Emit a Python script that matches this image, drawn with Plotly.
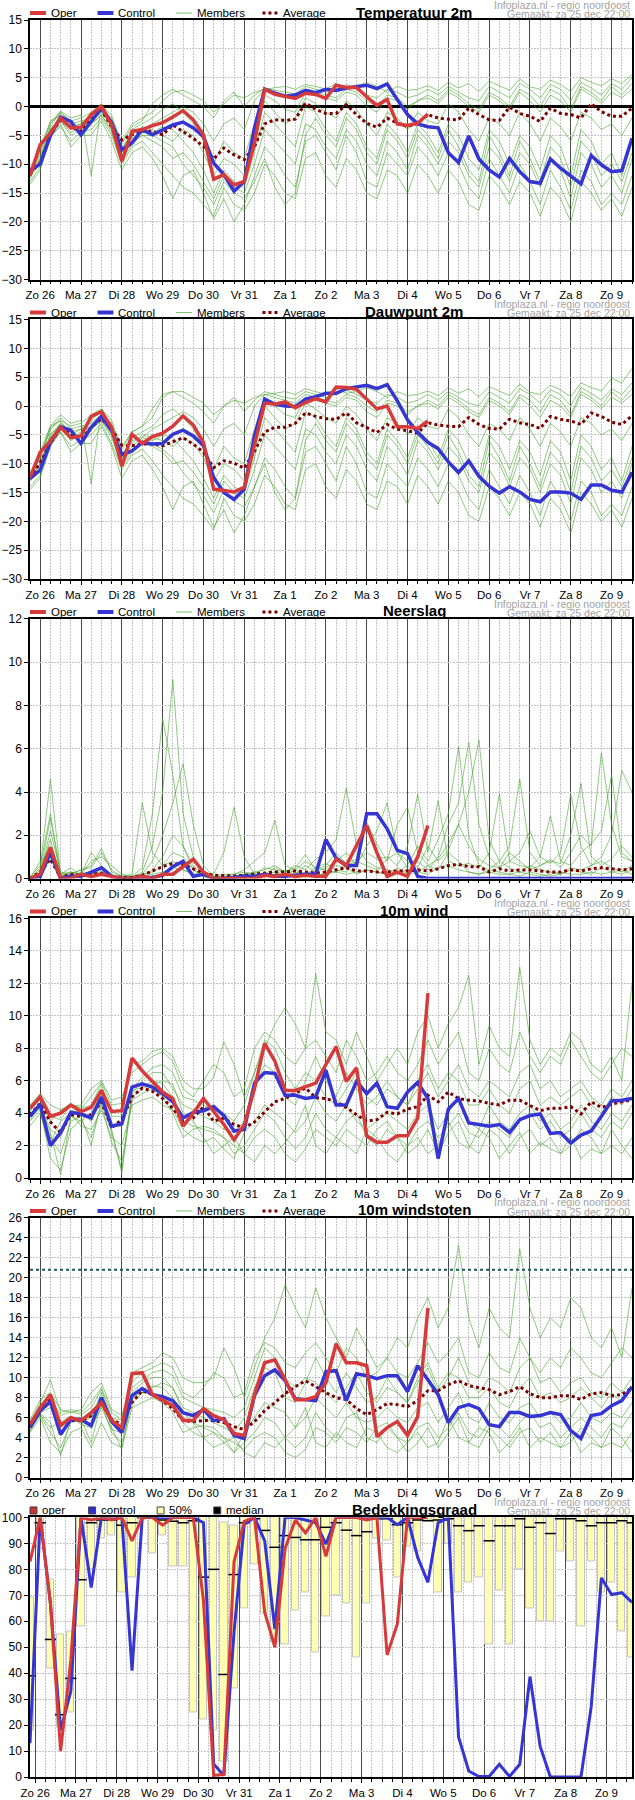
#!/usr/bin/env python3
"""
Ensemble pluim (Infoplaza, regio noordoost) - run za 25 dec 22:00.
Six stacked panels: temperature, dew point, precipitation, wind, gusts, cloud cover.
"""

import pandas as pd
import plotly.graph_objects as go
from plotly.subplots import make_subplots

# ---------------------------------------------------------------------------
# time axis
# ---------------------------------------------------------------------------
TIMES = pd.date_range("2010-12-25 18:00", periods=60, freq="6h")
CLOUD_TIMES = pd.date_range("2010-12-25 21:00", periods=60, freq="6h")
DAY_TICKS = pd.date_range("2010-12-26", periods=15, freq="D")
DAY_LABELS = ["Zo 26", "Ma 27", "Di 28", "Wo 29", "Do 30", "Vr 31", "Za 1", "Zo 2",
              "Ma 3", "Di 4", "Wo 5", "Do 6", "Vr 7", "Za 8", "Zo 9"]

CREDIT_LINES = ["Infoplaza.nl - regio noordoost", "Gemaakt: za 25 dec 22:00"]

# ---------------------------------------------------------------------------
# Temperatuur 2m
# ---------------------------------------------------------------------------
temp_oper = [
    -12, -6.6, -4.6, -2.0, -3.7, -3.6, -1.4, 0.0, -3.2, -9.5,
    -4.3, -4.0, -3.3, -2.8, -1.8, -0.7, -2.3, -4.9, -12.6, -11.8,
    -13.6, -13.0, -6.3, 3.0, 2.1, 1.8, 1.4, 2.3, 2.1, 1.4,
    3.7, 3.3, 3.3, 1.7, 0.2, 1.2, -3.0, -3.3, -2.9, -1.3]
temp_control = [
    -11, -10, -5, -1.8, -2.6, -4.9, -2.6, -0.3, -2.8, -7.5,
    -6.3, -4.0, -4.9, -4.0, -3.2, -2.7, -3.7, -5.2, -9.8, -11.8,
    -14.7, -13.0, -3.7, 3.0, 2.3, 1.8, 2.0, 2.8, 2.4, 3.0,
    2.8, 3.2, 3.5, 3.7, 3.1, 3.9, 1.2, -1.4, -3.0, -3.5,
    -3.7, -8.0, -9.7, -5.1, -9.1, -11.0, -12.2, -9.0, -11.3, -13.0,
    -13.3, -9.1, -10.7, -12.1, -13.4, -8.5, -10.1, -11.3, -11.1, -5.5]
temp_avg = [
    -11.5, -9.8, -4.9, -2.3, -3.5, -4.3, -2.3, -0.6, -3.5, -5.8,
    -4.9, -4.3, -4.3, -4.9, -3.2, -4.3, -5.5, -6.9, -9.1, -7.2,
    -8.4, -9.2, -6.9, -3.0, -2.3, -2.4, -2.2, 0.6, -0.5, -1.2,
    -1.2, 0.3, -1.4, -2.9, -3.6, -2.0, -2.9, -3.5, -2.9, -1.4,
    -2.0, -2.2, -2.3, -0.3, -1.4, -2.3, -2.4, -0.1, -1.2, -1.7,
    -2.6, -0.3, -1.2, -1.4, -2.0, 0.5, -0.9, -1.7, -1.7, -0.3]
temp_members = [
    [-11.5, -8.5, -3.5, -1, -2.5, -2, -1, 0.5, -2.5, -6,
     -3, -2, -1, 1, 2.5, 2.8, 2, 1, -1, 0.5,
     2, 1.5, 2.5, 3, 3.2, 3.5, 3, 3.8, 3.5, 3,
     4, 3.2, 3.5, 4.2, 3.5, 2.5, 3.5, 2.8, 3, 3.6,
     2.8, 4.2, 3.2, 4, 2.6, 4.4, 3.6, 2.8, 4.8, 3.4,
     3, 4.6, 3.8, 2.6, 5, 4.2, 3.6, 4.8, 4, 5.5],
    [-12, -9.5, -4, -2, -3, -4.5, -2, -0.5, -3, -7,
     -5, -3.5, -4, -5, -6, -4, -5, -8, -12, -9,
     -10, -12, -6, 1, -1, -3, -2, 1.5, 0.5, -1,
     -2, 1, -0.5, -3, -5, -1, -2, -4, -1, -2.5,
     -3, 0.5, -1, -4, -6, -2, -3, -5, -1, -3,
     -6, -2, -3.5, -6, -1, -2, -4, -3, -5, -2],
    [-13, -10.5, -5, -3.5, -6, -4.5, -4, -2, -5, -10,
     -7, -6, -8, -10, -12, -14, -15, -17, -19, -14,
     -17, -18, -15, -10, -12, -15, -16, -9, -8, -12,
     -14, -9, -11, -15, -16, -11, -12, -15, -10, -12,
     -15, -11, -13, -17, -18, -12, -14, -17, -13, -15,
     -19, -14, -16, -20, -13, -15, -18, -16, -19, -14],
    [-11, -7.5, -2.5, -1.5, -4, -3, -1.5, 0, -3, -8,
     -4, -3, -2, -0.5, 0.5, -1, -3, -6, -10, -6,
     -8, -9, -3, 2, 1, -0.5, -1, 2.5, 2, 1.5,
     1, 2.5, 2, 0, -1, 1.5, 1, -0.5, 1, 1.5,
     0.5, 2.5, 1.5, 0, -1, 2, 1, -0.5, 2.5, 1,
     -1, 2, 1, -1, 3, 2, 0.5, 2.5, 1.5, 3],
    [-12.5, -9, -4.5, -2.5, -5, -4, -3, -1.5, -4.5, -9,
     -6, -5, -6, -7, -9, -8, -10, -13, -16, -12,
     -14, -15, -10, -4, -6, -8, -10, -3, -4, -7,
     -9, -4, -6, -10, -12, -6, -8, -11, -5, -7,
     -10, -6, -8, -12, -14, -7, -9, -13, -8, -10,
     -14, -9, -11, -16, -8, -10, -14, -12, -15, -9],
    [-11.8, -8, -3, -1, -3, -2.5, -2, -0.5, -2, -7.5,
     -4.5, -4, -3, -2, -1, 0, -1, -3, -6, -3,
     -2, -4, 1, 3, 2.5, 2, 1.5, 3, 2.5, 2,
     1.5, 3, 2.5, 1, 0, 2, 1.5, 0, 1, 2,
     1, 3, 2, 0.5, -0.5, 2.5, 1.5, 0, 3, 2,
     0, 3, 2, -0.5, 3.5, 2.5, 1, 3.5, 2, 4],
    [-12.2, -9, -3.8, -2.5, -4.5, -3.5, -2.5, -1, -3.5, -8.5,
     -5.5, -4, -4.5, -3.5, -4, -6, -8, -11, -15, -11,
     -13, -14, -8, -1, -3, -5, -7, 0, -1, -4,
     -6, -1, -3, -7, -9, -3, -5, -8, -3, -5,
     -8, -3, -5, -9, -11, -4, -6, -10, -5, -7,
     -11, -5, -7, -12, -4, -6, -10, -8, -12, -6],
    [-13.5, -11, -5.5, -3, -7, -5, -5, -2.5, -6, -11,
     -8, -7, -9, -12, -16, -12, -11, -15, -19.5, -16,
     -20, -17, -12, -7, -9, -12, -14, -6, -5, -8,
     -11, -5, -8, -13, -14, -8, -10, -12, -7, -9,
     -12, -8, -10, -14, -16, -9, -12, -15, -10, -13,
     -17, -11, -14, -18, -11, -13, -17, -15, -17, -12],
    [-11.2, -7, -2.8, -0.8, -2, -1.5, -12, 0.2, -1.5, -6.5,
     -3.5, -2.5, 0.5, 2, 3, 2, 1, 0, -2, 1,
     2.5, 0, 2, 3.2, 2.8, 2.5, 2.2, 3.5, 3, 2.5,
     3, 3.8, 3, 2, 1.5, 3, 2.5, 1.5, 2, 3,
     2, 3.5, 2.5, 1.5, 1, 3.5, 2.5, 1.5, 4, 3,
     1.5, 3.8, 3, 1, 4.2, 3.2, 2, 4, 3, 5],
    [-12, -10, -4.2, -2, -3.5, -3, -3, -1.5, -4, -9.5,
     -6.5, -5, -5, -6, -7, -10, -12, -14, -17, -13,
     -15, -16, -13, -9, -14, -17, -15, -5, -2, -5,
     -7, -2, -4, -8, -10, -4, -6, -9, -4, -6,
     -9, -4, -7, -11, -13, -5, -8, -12, -6, -9,
     -13, -7, -9, -14, -6, -8, -12, -10, -13, -8],
]

# ---------------------------------------------------------------------------
# Dauwpunt 2m
# ---------------------------------------------------------------------------
dew_oper = [
    -12.4, -8.0, -6.1, -3.7, -5.5, -5.2, -1.8, -1.0, -3.7, -10.4,
    -4.9, -6.5, -5.3, -4.7, -3.5, -1.7, -3.3, -6.3, -14.4, -14.6,
    -14.9, -14.1, -6.6, 0.5, 0.3, 0.7, -0.3, 0.6, 1.3, 0.7,
    3.3, 3.2, 2.9, 1.3, -0.5, 0.0, -3.6, -3.6, -3.9, -2.6]
dew_control = [
    -12.6, -11.1, -6.3, -3.6, -4.2, -6.5, -3.7, -1.8, -4.3, -8.4,
    -7.8, -6.3, -6.6, -6.5, -4.9, -4.2, -5.2, -6.9, -12.4, -15.0,
    -16.2, -14.4, -5.2, 1.2, 0.3, 0.0, -0.1, 1.2, 1.6, 2.2,
    2.2, 3.0, 3.3, 3.6, 3.0, 3.7, 0.9, -2.4, -4.6, -6.3,
    -7.4, -9.7, -11.5, -9.5, -12.2, -13.9, -15.1, -14.0, -14.9, -16.2,
    -16.6, -14.9, -14.9, -15.1, -16.2, -13.7, -13.7, -14.6, -14.9, -11.5]
dew_avg = [
    -12.5, -9.8, -6.5, -3.7, -4.9, -5.8, -3.7, -2.2, -4.0, -6.8,
    -6.9, -6.6, -6.6, -6.9, -6.2, -5.5, -6.6, -8.0, -10.7, -9.5,
    -9.9, -10.8, -7.8, -4.5, -3.7, -3.7, -3.0, -1.2, -1.8, -2.2,
    -2.3, -1.2, -2.9, -3.7, -4.6, -3.2, -4.0, -4.3, -4.7, -2.9,
    -3.3, -3.5, -3.6, -2.0, -3.2, -3.9, -4.0, -2.3, -2.9, -3.2,
    -3.9, -1.8, -2.3, -2.6, -3.2, -1.2, -1.8, -2.8, -3.2, -1.7]
dew_members = [
    [-12, -9, -4, -2.5, -3.5, -3, -1.5, -0.5, -3.5, -7,
     -4.5, -3.5, -2, 1.5, 2.5, 2.5, 1.5, 0.5, -1.5, 0,
     1, 0.5, 1.5, 2, 2.2, 2.5, 2, 3, 2.5, 2,
     3, 2.2, 2.5, 3.2, 2.5, 1.5, 2.5, 1.8, 2, 2.6,
     1.8, 3.2, 2.2, 3, 1.6, 3.4, 2.6, 1.8, 3.8, 2.4,
     2, 3.6, 2.8, 1.6, 4, 3.2, 2.6, 4.8, 4, 6.5],
    [-12.5, -10, -5, -3, -4.5, -6, -3.5, -2, -4.5, -8,
     -6.5, -5, -5.5, -6, -7, -5.5, -6.5, -9, -13, -10,
     -11, -13, -7, 0, -2, -4, -3, 0.5, -0.5, -2,
     -3, 0, -1.5, -4, -6, -2, -3, -5, -2, -3.5,
     -4, -0.5, -2, -5, -7, -3, -4, -6, -2, -4,
     -7, -3, -4.5, -7, -2, -3, -5, -4, -6, -3],
    [-14, -12, -6.5, -4.5, -7, -6, -5, -3, -6.5, -11,
     -8.5, -7.5, -9.5, -12, -14, -16, -17, -19, -21.5, -16,
     -19, -20, -17, -12, -14, -17, -18, -11, -10, -14,
     -16, -11, -13, -17, -18, -13, -14, -17, -12, -14,
     -17, -13, -15, -19, -20, -14, -16, -19, -15, -17,
     -21, -16, -18, -22, -15, -17, -20, -18, -21, -16],
    [-12, -8.5, -3.5, -2.5, -5, -4, -2.5, -1, -4, -9,
     -5.5, -4.5, -3.5, -1.5, -0.5, -2, -4, -7, -11, -7,
     -9, -10, -4, 1, 0, -1.5, -2, 1.5, 1, 0.5,
     0, 1.5, 1, -1, -2, 0.5, 0, -1.5, 0, 0.5,
     -0.5, 1.5, 0.5, -1, -2, 1, 0, -1.5, 1.5, 0,
     -2, 1, 0, -2, 2, 1, -0.5, 1.5, 0.5, 2],
    [-13, -10, -5.5, -3.5, -6, -5, -4, -2.5, -5.5, -10,
     -7.5, -6.5, -7, -8, -10, -9.5, -11.5, -14, -17, -13,
     -15, -16, -11, -5, -7, -9, -11, -4, -5, -8,
     -10, -5, -7, -11, -13, -7, -9, -12, -6, -8,
     -11, -7, -9, -13, -15, -8, -10, -14, -9, -11,
     -15, -10, -12, -17, -9, -11, -15, -13, -16, -10],
    [-12.3, -9, -4, -2, -4, -3.5, -3, -1.5, -3, -8.5,
     -6, -5.5, -4, -3, -2, -1, -2, -4, -7, -4,
     -3, -5, 0, 2, 1.5, 1, 0.5, 2, 1.5, 1,
     0.5, 2, 1.5, 0, -1, 1, 0.5, -1, 0, 1,
     0, 2, 1, -0.5, -1.5, 1.5, 0.5, -1, 2, 1,
     -1, 2, 1, -1.5, 2.5, 1.5, 0, 2.5, 1, 3],
    [-12.7, -10, -4.8, -3.5, -5.5, -4.5, -3.5, -2, -4.5, -9.5,
     -7, -5.5, -6, -5, -5.5, -7.5, -9.5, -12.5, -16, -12,
     -14, -15, -9, -2, -4, -6, -8, -1, -2, -5,
     -7, -2, -4, -8, -10, -4, -6, -9, -4, -6,
     -9, -4, -6, -10, -12, -5, -7, -11, -6, -8,
     -12, -6, -8, -13, -5, -7, -11, -9, -13, -7],
    [-14.5, -12.5, -7, -4.5, -8, -6.5, -6.5, -3.5, -7, -12.5,
     -9.5, -8.5, -11, -14, -18, -14, -13, -17, -21, -18,
     -22, -19, -14, -9, -11, -14, -16, -8, -7, -10,
     -13, -7, -10, -15, -16, -10, -12, -14, -9, -11,
     -14, -10, -12, -16, -18, -11, -14, -17, -12, -15,
     -19, -13, -16, -20, -13, -15, -19, -17, -19, -14],
    [-11.8, -8, -3.5, -1.5, -3, -2.5, -13.5, -0.5, -2.5, -7.5,
     -4.5, -3.5, -0.5, 2, 2.5, 1.5, 0.5, -1, -3, 0,
     1.5, -1, 1, 2.5, 2, 1.5, 1.2, 2.5, 2, 1.5,
     2, 2.8, 2, 1, 0.5, 2, 1.5, 0.5, 1, 2,
     1, 2.5, 1.5, 0.5, 0, 2.5, 1.5, 0.5, 3, 2,
     0.5, 2.8, 2, 0, 3.2, 2.2, 1, 3, 2, 4],
    [-12.8, -11, -5.5, -3, -4.5, -4, -4, -2.5, -5, -10.5,
     -8, -6.5, -6.5, -7.5, -9, -11.5, -13.5, -15.5, -18.5, -14.5,
     -16.5, -17.5, -14, -10, -15, -18, -16, -6, -3, -6,
     -8, -3, -5, -9, -11, -5, -7, -10, -5, -7,
     -10, -5, -8, -12, -14, -6, -9, -13, -7, -10,
     -14, -8, -10, -15, -7, -9, -13, -11, -14, -9],
]

# ---------------------------------------------------------------------------
# Neerslag
# ---------------------------------------------------------------------------
precip_oper = [
    0, 0.2, 1.45, 0, 0, 0.2, 0.1, 0.2, 0.1, 0,
    0, 0.1, 0, 0.2, 0.2, 0.55, 0.9, 0.3, 0, 0,
    0, 0, 0, 0.15, 0.1, 0.2, 0.1, 0.15, 0.1, 0.1,
    0.9, 0.6, 1.5, 2.45, 1.2, 0.1, 0.3, 0.1, 1.0, 2.45]
precip_control = [
    0, 0.1, 1.2, 0, 0.1, 0.1, 0.3, 0.5, 0.1, 0,
    0, 0.05, 0.05, 0.15, 0.55, 0.8, 0.1, 0.2, 0, 0,
    0.05, 0.1, 0.1, 0.2, 0.1, 0.1, 0.15, 0.2, 0.2, 1.8,
    0.95, 0.6, 0.6, 3.0, 3.0, 2.3, 1.3, 1.15, 0.1, 0,
    0, 0, 0, 0, 0, 0, 0, 0, 0, 0,
    0, 0, 0, 0, 0, 0, 0, 0, 0, 0]
precip_avg = [
    0, 0.3, 0.9, 0.05, 0.2, 0.15, 0.2, 0.25, 0.1, 0.05,
    0.05, 0.15, 0.35, 0.55, 0.7, 0.65, 0.45, 0.25, 0.15, 0.12,
    0.12, 0.15, 0.2, 0.25, 0.3, 0.3, 0.35, 0.3, 0.25, 0.3,
    0.4, 0.5, 0.35, 0.35, 0.3, 0.3, 0.35, 0.35, 0.4, 0.35,
    0.45, 0.6, 0.65, 0.55, 0.55, 0.3, 0.45, 0.35, 0.4, 0.4,
    0.35, 0.3, 0.3, 0.4, 0.35, 0.45, 0.5, 0.45, 0.4, 0.45]
precip_members = [
    [0, 0.5, 4.6, 0.2, 0.1, 0.3, 0.2, 0.4, 0.1, 0,
     0, 0.3, 1.5, 4, 9.2, 3, 1, 0.2, 0, 0,
     0.1, 0.2, 0.1, 0.2, 0.3, 0.1, 0.4, 0.2, 0.1, 0.3,
     0.6, 0.5, 0.2, 0.4, 0.3, 0.2, 0.5, 0.2, 0.3, 0.6,
     0.4, 1.2, 0.8, 0.3, 0.2, 0.4, 0.3, 0.2, 0.1, 0.3,
     0.2, 0.1, 0.2, 0.4, 0.3, 0.2, 0.5, 0.3, 0.2, 0.4],
    [0, 0.3, 2.8, 0.1, 0.3, 0.2, 1.2, 0.6, 0.2, 0,
     0.1, 0.5, 3, 7.4, 4.8, 1.5, 0.4, 0.1, 0, 0.1,
     0.2, 0.3, 0.2, 0.5, 0.4, 0.3, 0.6, 0.4, 0.9, 1.2,
     1.8, 4.2, 1.5, 0.8, 0.5, 0.4, 0.3, 0.6, 1.5, 0.8,
     1.8, 3, 6.1, 2, 0.6, 0.4, 0.8, 0.5, 0.3, 0.6,
     0.4, 0.3, 0.2, 0.5, 0.4, 0.6, 0.8, 0.5, 0.3, 0.6],
    [0, 0.2, 2.2, 0.3, 0.2, 0.4, 0.6, 1.4, 0.3, 0.1,
     0.1, 0.2, 0.8, 2, 3.5, 5.3, 2.5, 0.6, 0.1, 0,
     0.1, 0.1, 0.3, 0.2, 0.5, 0.3, 0.2, 0.6, 0.3, 0.5,
     0.8, 1.2, 0.6, 1.5, 2.2, 3.5, 1.2, 0.5, 0.8, 0.4,
     1, 2.5, 3.5, 6.3, 2.5, 1, 0.5, 1.2, 0.8, 0.4,
     0.6, 0.9, 0.5, 1.2, 2, 1.5, 5.8, 2.5, 1, 0.8],
    [0.1, 0.6, 3, 0.2, 0.5, 0.1, 0.3, 0.2, 0.1, 0.1,
     0.2, 3.5, 1.2, 0.6, 0.8, 0.4, 0.2, 0.3, 0.2, 1.2,
     3.3, 1, 0.2, 0.1, 0.2, 0.4, 0.3, 0.2, 0.5, 0.7,
     0.4, 0.3, 0.8, 0.6, 0.4, 0.9, 1.2, 0.8, 0.5, 1.5,
     0.8, 1.3, 2.5, 4, 6.4, 1.8, 0.8, 1.5, 4.6, 1.2,
     0.6, 0.8, 0.7, 2, 4.4, 1, 0.6, 0.9, 1.5, 1],
    [0, 0.4, 1.8, 0.1, 0.2, 0.4, 0.5, 1.2, 0.4, 0.1,
     0.1, 0.1, 0.4, 1, 2, 1.5, 0.6, 0.2, 0.1, 0.2,
     0.2, 0.4, 0.8, 1.2, 2.7, 0.6, 0.4, 0.8, 0.5, 0.4,
     0.3, 0.6, 0.8, 1.2, 0.9, 1, 0.6, 1.5, 3.9, 1.2,
     3.6, 0.8, 0.6, 0.7, 0.5, 1.2, 3.9, 0.8, 0.6, 0.5,
     1, 0.7, 1.2, 3.9, 1.5, 0.6, 1, 2, 5, 4],
    [0, 0.8, 1.2, 0.2, 0.3, 0.2, 0.8, 1, 0.6, 0.2,
     0.1, 0.2, 0.3, 0.6, 1.2, 1, 0.4, 0.2, 0.1, 0.1,
     0.1, 0.2, 0.3, 0.4, 0.6, 0.3, 0.5, 1.1, 0.4, 0.6,
     1.2, 0.7, 0.9, 2.6, 1.6, 0.8, 2.5, 3.3, 1.2, 0.6,
     0.9, 1.6, 2.5, 1.5, 0.9, 0.6, 0.5, 0.8, 1.2, 2.2,
     1, 2.9, 0.8, 0.6, 1.2, 1.6, 2.2, 4.8, 1.2, 0.8],
    [0, 0.2, 0.9, 0.1, 0.1, 0.1, 0.2, 0.3, 0.1, 0,
     0, 0.1, 0.2, 0.3, 0.5, 0.4, 0.2, 0.1, 0, 0,
     0.1, 0.1, 0.1, 0.1, 0.2, 0.1, 0.2, 0.2, 0.1, 0.2,
     0.3, 0.2, 0.3, 0.4, 0.3, 0.2, 0.3, 0.4, 0.3, 0.2,
     0.5, 0.6, 0.4, 0.3, 0.2, 0.3, 0.2, 0.2, 0.3, 0.2,
     0.1, 0.2, 0.3, 0.2, 0.2, 0.3, 0.2, 0.3, 0.4, 0.2],
]

# ---------------------------------------------------------------------------
# 10m wind
# ---------------------------------------------------------------------------
wind_oper = [
    4.3, 5.0, 3.8, 4.0, 4.5, 4.1, 4.35, 5.4, 4.1, 4.15,
    7.4, 6.6, 5.95, 5.3, 4.9, 3.2, 4.0, 4.9, 4.1, 3.3,
    2.35, 3.3, 5.5, 8.3, 7.2, 5.4, 5.4, 5.6, 5.85, 7.0,
    8.1, 5.95, 6.8, 2.6, 2.2, 2.2, 2.6, 2.6, 3.7, 11.4]
wind_control = [
    3.8, 4.55, 2.0, 2.8, 4.05, 3.95, 3.7, 5.0, 3.2, 3.35,
    5.6, 5.8, 5.6, 5.2, 4.7, 3.7, 4.05, 4.15, 4.4, 3.85,
    2.9, 3.0, 5.85, 6.5, 6.45, 5.1, 5.1, 4.9, 5.0, 6.65,
    4.5, 4.5, 5.95, 5.2, 5.85, 4.4, 4.3, 5.3, 5.9, 4.9,
    1.2, 4.25, 4.9, 3.4, 3.3, 3.2, 3.3, 2.8, 3.6, 3.85,
    3.95, 2.75, 2.8, 2.15, 2.65, 2.9, 3.8, 4.75, 4.8, 4.9]
wind_avg = [
    3.9, 4.6, 3.45, 2.8, 3.9, 3.8, 3.9, 4.7, 3.1, 3.6,
    5.0, 5.55, 5.35, 4.9, 4.3, 3.5, 3.7, 4.4, 3.5, 3.7,
    3.3, 3.1, 3.45, 4.1, 4.7, 4.9, 5.2, 5.55, 4.95, 4.9,
    4.7, 4.35, 3.9, 3.5, 3.6, 4.05, 3.95, 4.25, 4.4, 5.1,
    4.7, 5.3, 4.9, 4.8, 4.75, 4.6, 4.5, 4.8, 4.8, 4.5,
    4.15, 4.3, 4.3, 4.4, 3.95, 4.7, 4.35, 4.55, 4.7, 4.8]
wind_members = [
    [4.2, 4.8, 3.5, 4.2, 4.6, 4.3, 5, 5.9, 4.5, 4.6,
     7, 7.2, 7.8, 8, 7.5, 6, 5.5, 5.5, 6.2, 8.4,
     7, 5, 6.5, 8, 9.5, 10.5, 9.5, 8, 12.6, 9,
     8.5, 7, 9, 7.5, 6, 7, 8, 7, 9, 10,
     8, 9.5, 10.5, 12.5, 7, 9.4, 8, 7.5, 13, 8.5,
     7, 8, 7.5, 9, 8.5, 7, 6.5, 7.5, 6, 12],
    [3.5, 4.2, 1.2, 0.5, 3, 3.6, 2.5, 4.5, 2.2, 1,
     4.8, 5.2, 5.5, 5, 4, 2.5, 3, 3.2, 3, 2.5,
     1.5, 2, 3, 4, 3.5, 2.5, 1.8, 2.5, 4, 3,
     2.5, 3.5, 4, 2.5, 2, 3, 2.5, 1.5, 2, 3,
     1.5, 2.8, 3.5, 2, 1.5, 3, 2.5, 1.5, 2.5, 3,
     2, 2.5, 1.5, 2, 3, 2.5, 1.5, 2, 1.5, 2.5],
    [3.8, 4.5, 3, 2.5, 4.2, 4, 3.5, 5.5, 3.2, 3.2,
     5.2, 6, 6.5, 6.5, 5.5, 4.5, 4.2, 3.8, 3.5, 3,
     2.8, 3.5, 5.5, 7, 6.5, 5, 4.5, 6, 7.5, 6,
     5, 6.5, 5.5, 4.5, 5, 6, 5, 4.5, 5.5, 6.5,
     5, 6, 7, 5.5, 5, 6, 5.5, 5, 6.5, 7,
     5.5, 6, 5, 5.5, 6, 5, 4.5, 5.5, 5, 6],
    [4, 4.3, 2.5, 1.5, 3.5, 3.8, 2, 4.8, 2.8, 0.5,
     5, 5.5, 5.8, 6, 5.8, 4, 3.5, 2.5, 1.5, 2,
     2.5, 1.5, 1, 2, 1.5, 2.2, 3, 4.5, 2, 1.5,
     2.5, 2, 1.5, 3, 2.5, 1.5, 1, 2, 2.5, 1.5,
     2, 3.5, 2.2, 1.8, 3, 2.5, 1.2, 2, 2.8, 1.5,
     2.2, 1.8, 1.5, 2.6, 1.2, 1.8, 1.5, 3, 2, 1.2],
    [4.5, 5.2, 4.5, 4.2, 4.4, 4.5, 5.5, 6, 4.8, 5,
     6.5, 7, 7.5, 7.8, 7.2, 5.5, 5, 6, 7, 6.5,
     5, 5.5, 8, 9, 8.5, 7.5, 7, 8, 8.5, 7.5,
     6.5, 8.5, 7.5, 6, 6.5, 7.5, 6.5, 6, 7, 8.5,
     7, 8, 9, 6.5, 6, 8, 7, 6.5, 9, 7.5,
     6.5, 7.5, 7, 8.5, 7.5, 6.5, 6, 7, 8, 7.5],
    [3.2, 4, 2.2, 3.5, 4, 3.2, 3, 4.2, 2.5, 2,
     4.5, 4.8, 5, 4.5, 4.2, 3, 2.5, 2.2, 2.5, 1.8,
     1.2, 2.8, 3.5, 4.5, 4, 3.5, 2.8, 3.5, 5, 4,
     3.5, 4.5, 3.5, 3, 3.5, 4, 3.5, 3, 4, 4.5,
     3, 4, 5, 3.5, 3, 4.5, 3.5, 3, 4, 4.5,
     3.5, 4, 3, 3.5, 4.5, 3.5, 3, 4, 3.5, 4.5],
    [4.1, 5, 3.8, 3.6, 4.5, 4.3, 4.5, 5.8, 3.8, 3.8,
     5.5, 6.2, 6.8, 7, 6.5, 5, 4.8, 4.5, 4.2, 4,
     3.5, 4.5, 6.5, 8.5, 8, 6.5, 5.5, 6.5, 6, 5,
     4.5, 5.5, 6.5, 5, 4.5, 5.5, 5, 4.5, 6, 7,
     5.5, 6.5, 6, 4.5, 4.5, 5.5, 4.5, 4, 5.5, 6,
     4.5, 5, 4.5, 5, 5.5, 4.5, 4, 5, 4.5, 5.5],
    [3.6, 4.4, 2.8, 0.2, 3.8, 3.5, 4, 5.2, 3, 0.3,
     5.4, 5.6, 6, 5.8, 5, 3.5, 3.2, 3, 2.8, 2.5,
     2, 1.5, 2.5, 3, 2.5, 1.5, 1, 1.8, 3, 2.5,
     2, 3, 2.5, 2, 3, 3.5, 2.5, 2, 3, 3.5,
     2.5, 3.2, 4, 2.8, 2.5, 3.5, 3, 2.5, 3.5, 4,
     3, 3.5, 2.5, 3, 4, 3, 2.5, 3.5, 3, 4],
]

# ---------------------------------------------------------------------------
# 10m windstoten
# ---------------------------------------------------------------------------
gust_oper = [
    5.3, 7.0, 8.3, 5.2, 6.0, 5.7, 6.5, 7.5, 5.7, 5.0,
    10.4, 10.5, 8.3, 7.7, 7.2, 5.7, 5.7, 6.9, 6.2, 5.8,
    4.4, 4.2, 8.3, 11.5, 11.8, 9.8, 7.8, 7.8, 8.1, 9.5,
    13.4, 11.5, 11.5, 11.2, 4.1, 5.0, 5.6, 4.2, 6.1, 17.0]
gust_control = [
    5.0, 6.7, 7.6, 4.3, 5.8, 5.8, 5.2, 8.0, 5.6, 4.5,
    8.2, 8.9, 8.3, 8.1, 7.7, 6.5, 6.2, 6.8, 5.7, 5.9,
    4.2, 3.9, 8.2, 10.2, 10.8, 9.7, 7.9, 7.8, 7.7, 10.6,
    10.7, 7.7, 10.4, 10.2, 9.9, 10.2, 10.2, 8.6, 11.2, 9.8,
    8.3, 5.5, 7.0, 7.3, 6.9, 5.3, 5.1, 6.5, 6.5, 6.1,
    6.2, 6.5, 6.3, 4.7, 3.9, 6.2, 6.4, 7.2, 7.7, 9.1]
gust_avg = [
    5.2, 6.7, 7.8, 5.3, 5.7, 5.7, 6.2, 7.4, 5.8, 5.3,
    7.5, 8.7, 8.3, 7.7, 6.9, 5.7, 5.6, 5.7, 5.7, 5.5,
    5.1, 4.8, 5.6, 6.7, 7.5, 8.4, 9.1, 9.7, 9.1, 8.5,
    8.0, 7.8, 6.9, 6.3, 6.8, 7.4, 7.3, 7.1, 7.7, 8.7,
    8.7, 9.3, 9.7, 9.2, 9.0, 8.8, 8.3, 8.6, 9.1, 8.4,
    8.0, 8.0, 8.2, 8.2, 7.8, 8.4, 8.5, 8.2, 8.3, 9.0]
gust_members = [
    [5.5, 7.5, 9.8, 6.5, 6.8, 6.5, 7.5, 9, 6.5, 5.8,
     10.5, 11, 11.5, 12.5, 12, 10, 9.5, 9.5, 10, 13,
     11, 8, 11, 14, 16, 19.3, 17, 15, 19, 16,
     14, 12, 15, 13, 11, 12, 14, 13, 16, 18,
     15, 17, 23.3, 16, 13, 17, 15, 14, 22.9, 17,
     14, 16, 15, 18, 17, 14, 13, 15, 12, 19],
    [4.5, 6, 3.5, 2.5, 4.5, 5, 3, 5.5, 3.5, 3,
     7, 7.5, 8, 7.5, 6.5, 4.5, 5, 5.2, 5, 4,
     2.5, 3.5, 4.5, 6, 5.5, 4, 3, 4, 6.5, 5,
     4, 6, 6.5, 4, 3.5, 5, 4, 2.5, 3.5, 5,
     3, 4.5, 6, 3.5, 3, 5, 4, 3, 4.5, 5,
     3.5, 4.5, 3, 3.5, 5, 4, 3, 3.5, 3, 4.5],
    [5, 6.5, 7, 5, 6, 6, 6, 8.5, 5.5, 5,
     8.5, 9.5, 10, 10, 9, 7, 6.5, 6, 5.5, 5,
     4.5, 6, 9, 11, 10.5, 8, 7.5, 9.5, 12, 10,
     8.5, 10.5, 9, 7.5, 8, 10, 8.5, 7.5, 9.5, 11,
     8.5, 10, 12, 9.5, 8.5, 10, 9.5, 8.5, 11, 12,
     9.5, 10, 8.5, 9.5, 10, 8.5, 8, 9.5, 8.5, 10],
    [5.2, 6.2, 4.5, 3, 5.5, 5.8, 3.5, 7.5, 4.5, 3.5,
     7.5, 8.5, 9, 9.5, 9, 6.5, 5.5, 4, 3, 3.5,
     4, 2.5, 2, 3.5, 3, 4, 5, 7, 3.5, 3,
     4.5, 3.5, 3, 5, 4.5, 3, 2.5, 3.5, 4.5, 3,
     3.5, 6, 4, 3.5, 5, 4.5, 2.5, 3.5, 5, 3,
     4, 3.5, 3, 4.5, 2.5, 3.5, 3, 5, 4, 2.5],
    [5.8, 7.8, 8.5, 6.8, 6.5, 6.8, 8.5, 9.5, 6.8, 6.2,
     9.5, 10.5, 11, 11.5, 11, 8.5, 8, 9, 10.5, 10,
     8, 8.5, 12, 13.5, 13, 11.5, 11, 12.5, 13.5, 12,
     10.5, 13, 12, 10, 10.5, 12, 10.5, 10, 11.5, 13.5,
     11.5, 12.5, 14, 10.5, 10, 12.5, 11, 10.5, 14, 12,
     10.5, 12, 11, 13, 12, 10.5, 10, 11.5, 13, 12],
    [4.8, 6.3, 5, 5.5, 6.2, 5.3, 5, 7, 4.8, 4.5,
     8, 8.5, 8.5, 8, 7.5, 5.5, 4.5, 4, 4.5, 3.5,
     2.5, 4.5, 6, 7.5, 7, 6.5, 5, 6, 8, 7,
     6, 7.5, 6, 5.5, 6, 7, 6, 5.5, 7, 7.5,
     5.5, 7, 8.5, 6, 5.5, 7.5, 6, 5.5, 7, 7.5,
     6, 6.5, 5.5, 6, 7.5, 6, 5.5, 6.5, 6, 7.5],
    [5.3, 7.2, 8, 6.2, 6.6, 6.3, 7, 8.8, 6, 5.7,
     9, 9.8, 10.5, 10.8, 10.2, 8, 7.5, 7, 6.8, 6.5,
     6, 7, 10, 13, 12, 10, 9, 10, 9.5, 8.5,
     7.5, 9, 10.5, 8.5, 7.5, 9, 8.5, 7.5, 10, 11.5,
     9, 10.5, 10, 8, 8, 9, 7.5, 7, 9, 10,
     8, 8.5, 7.5, 8, 9, 8, 7, 8.5, 7.5, 9],
    [4.6, 6.4, 5.5, 2.2, 5.8, 5.5, 6, 8, 5, 2.8,
     8.2, 8.8, 9.2, 9, 8, 6, 5.5, 5, 4.5, 4,
     3.5, 2.8, 4, 4.5, 4, 2.5, 2, 2.8, 5, 4.5,
     3.5, 5, 4.5, 3.5, 5, 5.5, 4, 3.5, 5, 5.5,
     4, 5, 6.5, 4.5, 4, 5.5, 5, 4, 5.5, 6.5,
     5, 5.5, 4, 5, 6, 5, 4, 5.5, 5, 6.5],
]
GUST_WARNING = 20.8

# ---------------------------------------------------------------------------
# Bedekkingsgraad (%)
# ---------------------------------------------------------------------------
cloud_low = [
    18, 88, 42, 19, 25, 58, 80, 92, 93, 71,
    77, 99, 86, 93, 81, 81, 25, 22, 18, 6,
    34, 65, 82, 63, 52, 51, 64, 71, 48, 62,
    70, 67, 46, 67, 92, 91, 77, 89, 87, 99,
    71, 90, 71, 75, 77, 51, 72, 51, 80, 65,
    60, 60, 87, 83, 58, 83, 71, 75, 56, 46]
cloud_high = [
    69, 100, 76, 55, 56, 100, 100, 100, 100, 100,
    100, 100, 100, 100, 100, 100, 100, 100, 100, 98,
    97, 100, 100, 100, 100, 100, 100, 100, 100, 100,
    100, 100, 100, 100, 100, 100, 100, 100, 100, 100,
    100, 100, 100, 100, 100, 100, 100, 100, 100, 100,
    100, 100, 100, 100, 100, 100, 100, 100, 100, 100]
cloud_median = [
    39, 98, 53, 24, 38, 76, 98, 99, 99, 97,
    98, 100, 100, 99, 98.5, 98, 98.7, 77, 80, 39.5,
    78, 98, 99.5, 95, 88.5, 93, 92.3, 91.4, 91.4, 96.2,
    98, 95.1, 93, 94.5, 99.5, 99.5, 97.2, 98, 99, 98.7,
    99, 99.5, 96.8, 94.9, 96.8, 91, 96.8, 96.8, 99.5, 96.2,
    98, 93.8, 99.5, 99.5, 98.7, 96.8, 98, 98, 98.7, 98]
cloud_oper = [
    83, 100, 67, 10, 45, 100, 99, 100, 99, 100,
    91, 100, 100, 97, 100, 100, 100, 68, 0.6, 1,
    83, 98.5, 100, 63.5, 50, 88, 99, 94, 100, 85,
    100, 100, 100, 99, 100, 47, 59, 100, 100, 100]
cloud_control = [
    13, 100, 67, 18, 33, 100, 73, 100, 100, 100,
    41, 100, 100, 100, 100, 100, 100, 98, 5, 0.6,
    56, 97.4, 100, 91, 57, 100, 100, 99, 98, 89.7,
    100, 100, 100, 100, 100, 100, 97.2, 100, 84.6, 75,
    98, 99.7, 15.4, 2.3, 0.2, 0.2, 4.9, 0.2, 4.9, 38.7,
    11.8, 0, 0, 0, 0, 27, 76.7, 70.3, 71, 67.3]

# ---------------------------------------------------------------------------
# styling
# ---------------------------------------------------------------------------
FIG_W, FIG_H = 635, 1800
M_L, M_R, M_T, M_B = 28, 1, 20, 20
PANEL_H = 300
SIX_HOURS = 6 * 3600 * 1000

RED = "#d63a3a"
BLUE = "#3535d4"
GREEN = "rgba(70,165,45,0.6)"
AVG = "#7a0000"
GRID = "#c4c4c4"
GRID_DASH = "2px,1px"
DAYLINE = "#4a4a4a"
FONT = "Liberation Sans, Arial, sans-serif"


def px_x(px):
    """Pixel column -> paper x."""
    return (px - M_L) / (FIG_W - M_L - M_R)


def px_y(py):
    """Pixel row (from top) -> paper y."""
    return (FIG_H - M_B - py) / (FIG_H - M_T - M_B)


def add_header(fig, row, title):
    """Panel title and the credit lines at the right."""
    top = (row - 1) * PANEL_H
    fig.add_annotation(x=px_x(415), y=px_y(top + 12), xref="paper", yref="paper",
                       text=f"<b>{title}</b>", showarrow=False,
                       xanchor="center", yanchor="middle",
                       font=dict(size=15, color="black"))
    for k, line in enumerate(CREDIT_LINES):
        fig.add_annotation(x=px_x(634), y=px_y(top + 4.5 + 9.5 * k), xref="paper", yref="paper",
                           text=line, showarrow=False, xanchor="right", yanchor="middle",
                           font=dict(size=10.5, color="#a3a3a3"))


def add_line_legend(fig, row):
    """Legend row: Oper, Control, Members, Average."""
    top = (row - 1) * PANEL_H
    yy = px_y(top + 13)
    entries = [
        ("Oper", 28, dict(color=RED, width=4)),
        ("Control", 96, dict(color=BLUE, width=4)),
        ("Members", 175, dict(color="rgba(70,165,45,0.7)", width=1)),
        ("Average", 262, dict(color=AVG, width=3, dash="dot")),
    ]
    for label, x0, style in entries:
        fig.add_shape(type="line", xref="paper", yref="paper",
                      x0=px_x(x0), x1=px_x(x0 + 16), y0=yy, y1=yy, line=style)
        fig.add_annotation(x=px_x(x0 + 19), y=yy, xref="paper", yref="paper",
                           text=label, showarrow=False, xanchor="left", yanchor="middle",
                           font=dict(size=11.5, color="black"))


def add_cloud_legend(fig, row):
    """Legend row of the cloud panel with square swatches."""
    top = (row - 1) * PANEL_H
    yy = top + 13
    entries = [("oper", 28, "#d03030"), ("control", 87, "#3030d0"),
               ("50%", 156, "#ffffb0"), ("median", 213, "#000000")]
    for label, x0, color in entries:
        fig.add_shape(type="rect", xref="paper", yref="paper",
                      x0=px_x(x0), x1=px_x(x0 + 7), y0=px_y(yy - 3.5), y1=px_y(yy + 3.5),
                      fillcolor=color, line=dict(color="#404040", width=1))
        fig.add_annotation(x=px_x(x0 + 10), y=px_y(yy), xref="paper", yref="paper",
                           text=label, showarrow=False, xanchor="left", yanchor="middle",
                           font=dict(size=11.5, color="black"))


def add_ensemble(fig, row, oper, control, avg, members):
    """Members, average, control and oper lines of one panel."""
    for m in members:
        fig.add_trace(go.Scatter(x=TIMES, y=m, mode="lines", line=dict(color=GREEN, width=1),
                                 showlegend=False, hoverinfo="skip"), row=row, col=1)
    fig.add_trace(go.Scatter(x=TIMES, y=avg, mode="lines", name="Average",
                             line=dict(color=AVG, width=3, dash="dot"), showlegend=False),
                  row=row, col=1)
    fig.add_trace(go.Scatter(x=TIMES, y=control, mode="lines", name="Control",
                             line=dict(color=BLUE, width=3.5), showlegend=False),
                  row=row, col=1)
    fig.add_trace(go.Scatter(x=TIMES[:len(oper)], y=oper, mode="lines", name="Oper",
                             line=dict(color=RED, width=3.5), showlegend=False),
                  row=row, col=1)


def style_axes(fig, row, yrange, dtick, times, zeroline=False):
    fig.update_xaxes(
        type="date", range=[times[0], times[-1]],
        tickvals=DAY_TICKS, ticktext=DAY_LABELS,
        showgrid=True, gridcolor=DAYLINE, gridwidth=1.2,
        showline=True, linecolor="black", linewidth=1.5, mirror=True,
        ticks="outside", ticklen=4, tickcolor="black",
        tickfont=dict(size=11.5, color="black"),
        minor=dict(dtick=SIX_HOURS, showgrid=True, gridcolor=GRID, griddash=GRID_DASH,
                   ticks="outside", ticklen=3, tickcolor="black"),
        row=row, col=1)
    fig.update_yaxes(
        range=yrange, dtick=dtick, tick0=yrange[0],
        showgrid=True, gridcolor=GRID, griddash=GRID_DASH,
        showline=True, linecolor="black", linewidth=1.5, mirror=True,
        ticks="outside", ticklen=4, tickcolor="black",
        tickfont=dict(size=12, color="black"),
        zeroline=zeroline, zerolinecolor="black", zerolinewidth=2.5,
        row=row, col=1)


def build_figure():
    fig = make_subplots(rows=6, cols=1, shared_xaxes=False,
                        vertical_spacing=40 / (FIG_H - M_T - M_B))

    panels = [
        ("Temperatuur 2m", temp_oper, temp_control, temp_avg, temp_members, [-30, 15], 5, True),
        ("Dauwpunt 2m", dew_oper, dew_control, dew_avg, dew_members, [-30, 15], 5, False),
        ("Neerslag", precip_oper, precip_control, precip_avg, precip_members, [0, 12], 2, False),
        ("10m wind", wind_oper, wind_control, wind_avg, wind_members, [0, 16], 2, False),
        ("10m windstoten", gust_oper, gust_control, gust_avg, gust_members, [0, 26], 2, False),
    ]
    for row, (title, oper, ctrl, avg, members, yrange, dtick, zl) in enumerate(panels, start=1):
        add_ensemble(fig, row, oper, ctrl, avg, members)
        style_axes(fig, row, yrange, dtick, TIMES, zeroline=zl)
        add_line_legend(fig, row)
        add_header(fig, row, title)

    fig.add_hline(y=GUST_WARNING, row=5, col=1,
                  line=dict(color="#1d5757", width=2, dash="dot"))

    # cloud cover: 50% band as floating bars, median dashes, control and oper
    spread = [h - l for h, l in zip(cloud_high, cloud_low)]
    fig.add_trace(go.Bar(x=CLOUD_TIMES, y=spread, base=cloud_low, width=0.72 * SIX_HOURS,
                         marker=dict(color="#ffffb4", line=dict(color="#c4c4c4", width=1)),
                         showlegend=False, name="50%"), row=6, col=1)
    fig.add_trace(go.Scatter(x=CLOUD_TIMES, y=cloud_median, mode="markers", name="median",
                             marker=dict(symbol="line-ew", size=8,
                                         line=dict(color="black", width=1.5)),
                             showlegend=False), row=6, col=1)
    fig.add_trace(go.Scatter(x=CLOUD_TIMES, y=cloud_control, mode="lines", name="control",
                             line=dict(color=BLUE, width=3), showlegend=False), row=6, col=1)
    fig.add_trace(go.Scatter(x=CLOUD_TIMES[:len(cloud_oper)], y=cloud_oper, mode="lines",
                             name="oper", line=dict(color=RED, width=3), showlegend=False),
                  row=6, col=1)
    style_axes(fig, 6, [0, 100], 10, CLOUD_TIMES)
    add_cloud_legend(fig, 6)
    add_header(fig, 6, "Bedekkingsgraad")

    fig.update_layout(
        width=FIG_W, height=FIG_H,
        margin=dict(l=M_L, r=M_R, t=M_T, b=M_B),
        paper_bgcolor="white", plot_bgcolor="white",
        font=dict(family=FONT, size=11, color="black"),
        showlegend=False, bargap=0,
    )
    return fig


def main():
    fig = build_figure()
    # page without the default body margin so the 635x1800 figure fills the window
    fig.write_html("out.html",
                   config={"displayModeBar": False},
                   post_script="document.body.style.margin='0';"
                               "document.body.style.overflow='hidden';")


if __name__ == "__main__":
    main()
